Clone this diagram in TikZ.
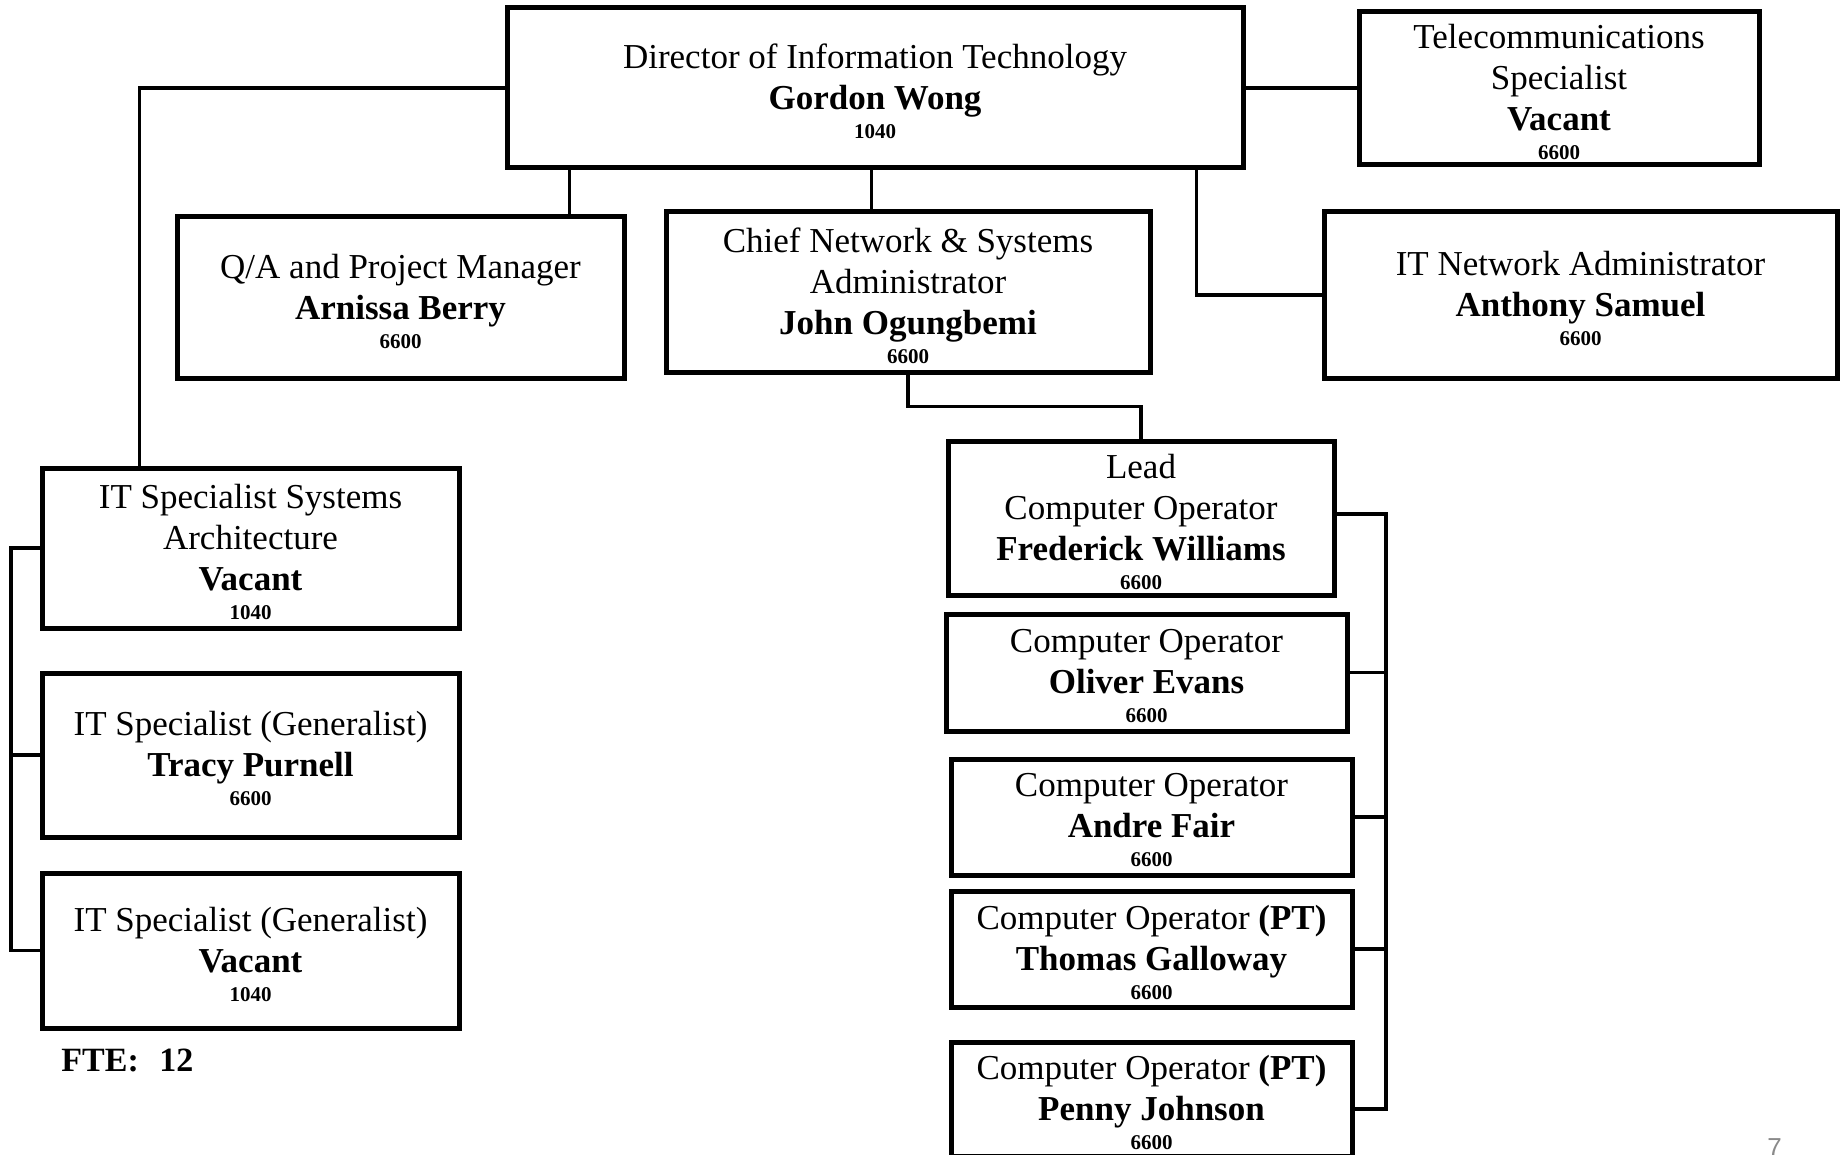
\documentclass[tikz,border=0pt]{standalone}
\usepackage{fontspec}
\setmainfont{Liberation Serif}
\newfontfamily\pagenumfont{Liberation Sans}
\usetikzlibrary{fit,calc}
\definecolor{pagegrey}{HTML}{8A8A8A}
\tikzset{
  cardbox/.style={draw, line width=2.5pt, inner sep=0pt},
  cardtext/.style={inner sep=0pt, align=center,
    font=\fontsize{17.5}{20.5}\selectfont},
  conn/.style={line width=1.9pt},
}
\newcommand\who[1]{{\bfseries #1}}
\newcommand\grade[1]{\\[-6pt]{\fontsize{10.5}{12}\selectfont\bfseries #1}}
% a framed position: name, corners of the frame, text lines
\newcommand\orgcard[3]{%
  \node[cardbox, fit={#2}] (#1) {};
  \node[cardtext] (#1-text) at ([yshift=-1.75pt]#1.center) {#3};
}
\begin{document}
\begin{tikzpicture}[x=0.5pt,y=-0.5pt]
\useasboundingbox (0,0) rectangle (1845,1155);

% top level
\orgcard{dir}{(507,8) (1243,168)}
  {Director of Information Technology\\\who{Gordon Wong}\grade{1040}}
\orgcard{tel}{(1359,12) (1759,165)}
  {Telecommunications\\Specialist\\\who{Vacant}\grade{6600}}

% second level
\orgcard{qa}{(177,217) (624,378)}
  {Q/A and Project Manager\\\who{Arnissa Berry}\grade{6600}}
\orgcard{chief}{(666,212) (1150,372)}
  {Chief Network \& Systems\\Administrator\\\who{John Ogungbemi}\grade{6600}}
\orgcard{net}{(1324,212) (1837,378)}
  {IT Network Administrator\\\who{Anthony Samuel}\grade{6600}}

% specialists, left column
\orgcard{arch}{(42,468) (459,628)}
  {IT Specialist Systems\\Architecture\\\who{Vacant}\grade{1040}}
\orgcard{gen1}{(42,673) (459,837)}
  {IT Specialist (Generalist)\\\who{Tracy Purnell}\grade{6600}}
\orgcard{gen2}{(42,873) (459,1028)}
  {IT Specialist (Generalist)\\\who{Vacant}\grade{1040}}

% operators, right column
\orgcard{lead}{(948,441) (1334,595)}
  {Lead\\Computer Operator\\\who{Frederick Williams}\grade{6600}}
\orgcard{op1}{(946,614) (1347,731)}
  {Computer Operator\\\who{Oliver Evans}\grade{6600}}
\orgcard{op2}{(951,759) (1352,875)}
  {Computer Operator\\\who{Andre Fair}\grade{6600}}
\orgcard{op3}{(951,891) (1352,1007)}
  {Computer Operator \who{(PT)}\\\who{Thomas Galloway}\grade{6600}}
\orgcard{op4}{(951,1042) (1352,1156)}
  {Computer Operator \who{(PT)}\\\who{Penny Johnson}\grade{6600}}

% bus lines
\coordinate (lbus) at (11,0);
\coordinate (rbus) at (1386,0);

% connectors from the director
\draw[conn] (dir.west) -| ($(arch.north west)+(100,0)$);
\path ($(qa.north west)+(395,0)$) coordinate (qaTop);
\draw[conn] (qaTop) -- (qaTop |- dir.south);
\path ($(chief.north west)+(208,0)$) coordinate (chTop);
\draw[conn] (chTop) -- (chTop |- dir.south);
\draw[conn] (dir.east) -- (dir.east -| tel.west);
\path ($(dir.south west)+(692,0)$) coordinate (dirNet);
\draw[conn] (dirNet) |- (net.west);

% chief to lead operator
\draw[conn] (chief.south) -- ++(0,32) -| (lead.north);

% operator bus
\path ($(lead.east)+(0,-4)$) coordinate (leadR);
\path ($(op4.east)+(0,10)$) coordinate (op4R);
\draw[conn] (leadR) -- (leadR -| rbus) -- (op4R -| rbus) -- (op4R);
\draw[conn] (op1.east) -- (op1.east -| rbus);
\draw[conn] (op2.east) -- (op2.east -| rbus);
\draw[conn] (op3.east) -- (op3.east -| rbus);

% specialist bus
\draw[conn] (arch.west) -- (arch.west -| lbus) -- (gen2.west -| lbus) -- (gen2.west);
\draw[conn] (gen1.west) -- (gen1.west -| lbus);

% footer
\node[anchor=base west, inner sep=0pt, font=\fontsize{17}{20}\selectfont\bfseries]
  (fte) at (61,1071) {FTE:\hspace{0.6em}12};
\node[anchor=base west, inner sep=0pt, text=pagegrey,
  font=\pagenumfont\fontsize{13}{15}\selectfont] (pg) at (1767,1156) {7};
\end{tikzpicture}
\end{document}
